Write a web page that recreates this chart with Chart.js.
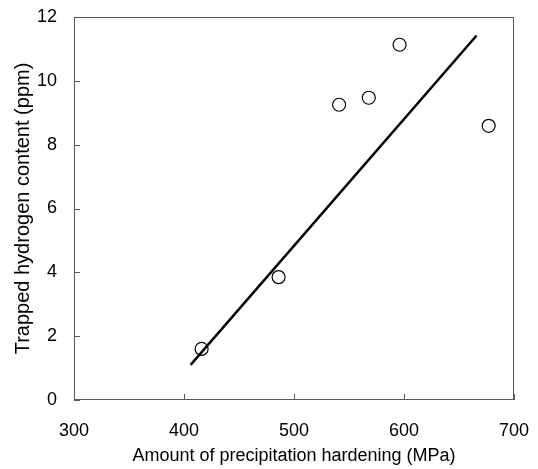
<!DOCTYPE html>
<html>
<head>
<meta charset="utf-8">
<script src="https://cdn.jsdelivr.net/npm/chart.js@4"></script>
<style>
  html, body { margin: 0; padding: 0; background: #fff; }
  #wrap { width: 538px; height: 469px; }
</style>
</head>
<body>
<div id="wrap"><canvas id="hydrogen-chart"></canvas></div>
<script>
// measured points
const hardening = [416, 486, 541, 568, 596, 677]
const hydrogen = [1.6, 3.85, 9.25, 9.47, 11.13, 8.59]
// fitted line end points
const fitX = [406, 666]
const fitY = [1.1, 11.42]
const xTicks = [300, 400, 500, 600, 700]
const yTicks = [0, 2, 4, 6, 8, 10, 12]

const axisColor = '#595959'
const fontFamily = '"Liberation Sans", Arial, sans-serif'

// frame around the plot and inward tick marks
const framePlugin = {
  id: 'frame',
  afterDraw(chart) {
    const ctx = chart.ctx
    const a = chart.chartArea
    const xs = chart.scales.x
    const ys = chart.scales.y
    ctx.save()
    ctx.strokeStyle = axisColor
    ctx.lineWidth = 1
    ctx.strokeRect(a.left + 0.5, a.top + 0.5, a.right - a.left - 1, a.bottom - a.top - 1)
    ctx.beginPath()
    xTicks.forEach(function (v) {
      const px = Math.round(xs.getPixelForValue(v)) + 0.5
      ctx.moveTo(px, a.bottom)
      ctx.lineTo(px, a.bottom - 6)
    })
    yTicks.forEach(function (v) {
      const py = Math.round(ys.getPixelForValue(v)) + 0.5
      ctx.moveTo(a.left, py)
      ctx.lineTo(a.left + 6, py)
    })
    ctx.stroke()
    ctx.restore()
  }
}

const canvas = document.getElementById('hydrogen-chart')
new Chart(canvas, {
  type: 'scatter',
  data: {
    datasets: [
      {
        label: 'Fit',
        type: 'line',
        data: fitX.map(function (x, i) { return { x: x, y: fitY[i] } }),
        borderColor: '#000',
        borderWidth: 2.5,
        pointRadius: 0,
        fill: false
      },
      {
        label: 'Measured',
        data: hardening.map(function (x, i) { return { x: x, y: hydrogen[i] } }),
        pointRadius: 6.5,
        pointBorderWidth: 1.2,
        pointBorderColor: '#000',
        pointBackgroundColor: '#fff'
      }
    ]
  },
  options: {
    responsive: true,
    maintainAspectRatio: false,
    animation: false,
    layout: { padding: { left: 5, right: 24, top: 17, bottom: 2 } },
    scales: {
      x: {
        type: 'linear',
        min: 300,
        max: 700,
        afterBuildTicks: function (s) { s.ticks = xTicks.map(function (v) { return { value: v } }) },
        afterFit: function (s) {
          s.height = 67
          s.paddingLeft = 0
          s.paddingRight = 0
        },
        grid: { display: false, drawTicks: false },
        border: { display: false },
        ticks: { padding: 20, color: '#000', font: { family: fontFamily, size: 18 } },
        title: {
          display: true,
          text: 'Amount of precipitation hardening (MPa)',
          color: '#000',
          padding: { top: 4, bottom: 0 },
          font: { family: fontFamily, size: 18 }
        }
      },
      y: {
        type: 'linear',
        min: 0,
        max: 12,
        afterBuildTicks: function (s) { s.ticks = yTicks.map(function (v) { return { value: v } }) },
        afterFit: function (s) {
          s.width = 69
          s.paddingTop = 0
          s.paddingBottom = 0
        },
        grid: { display: false, drawTicks: false },
        border: { display: false },
        ticks: { padding: 17, color: '#000', font: { family: fontFamily, size: 18 } },
        title: {
          display: true,
          text: 'Trapped hydrogen content (ppm)',
          color: '#000',
          padding: { top: 6, bottom: 4 },
          font: { family: fontFamily, size: 20 }
        }
      }
    },
    plugins: {
      legend: { display: false },
      tooltip: { enabled: false }
    }
  },
  plugins: [framePlugin]
})
</script>
</body>
</html>
